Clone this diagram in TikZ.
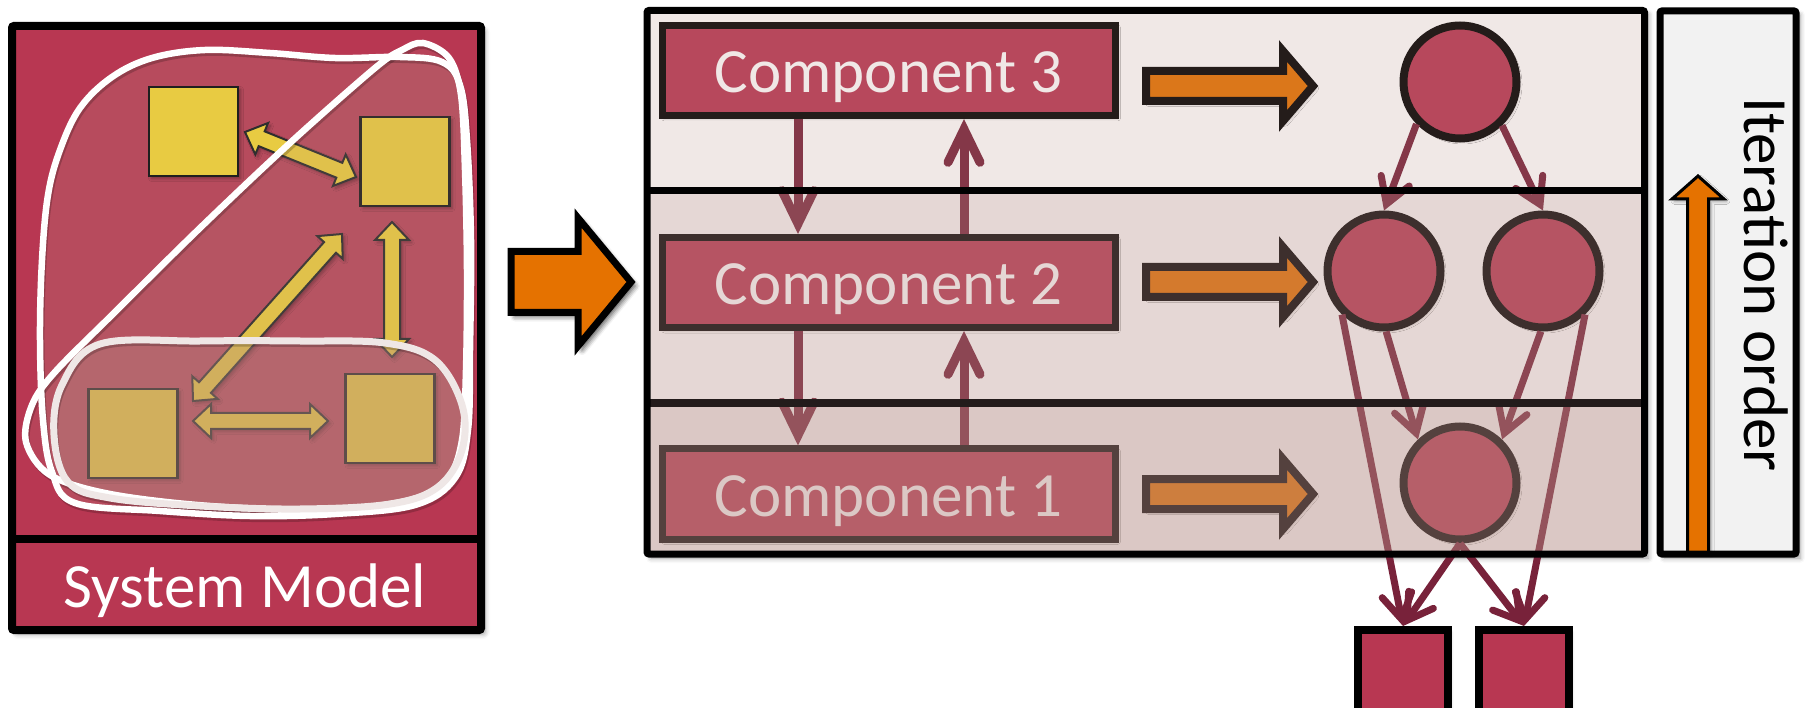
\documentclass[tikz,border=0pt]{standalone}
\usepackage{fontspec}
\setmainfont{Carlito}
\usetikzlibrary{arrows.meta,calc,shadows.blur}

\definecolor{sysred}{RGB}{184,55,82}
\definecolor{veil}{RGB}{180,140,132}
\definecolor{sqyellow}{RGB}{232,203,66}
\definecolor{orangefill}{RGB}{229,114,0}
\definecolor{flowline}{RGB}{120,34,58}
\definecolor{loopC}{RGB}{239,231,230}
\definecolor{iterbg}{RGB}{242,242,242}
\definecolor{darkline}{RGB}{35,27,27}

\newcommand\labelfont{\fontsize{63pt}{70pt}\selectfont}

% hand-drawn grouping loops of the system model
\newcommand\loopApath{plot[smooth cycle, tension=0.6] coordinates {(60,150) (80,108) (112,77) (152,58) (205,50) (270,53) (335,58) (400,57) (442,62) (460,85) (467,140) (471,240) (470,350) (468,430) (455,478) (415,505) (335,514) (250,516) (160,511) (75,503) (52,472) (43,420) (40,340) (42,260) (48,195)}}
\newcommand\loopBpath{plot[smooth cycle, tension=0.55] coordinates {(423,43) (449,58) (461,95) (465,170) (467,270) (466,370) (462,440) (447,480) (410,500) (330,510) (210,506) (110,494) (50,475) (26,442) (32,405) (55,372) (115,312) (200,228) (290,143) (375,68) (402,50)}}
\newcommand\loopCpath{plot[smooth cycle, tension=0.6] coordinates {(100,344) (200,341) (300,341) (385,343) (435,360) (462,405) (462,450) (438,487) (390,504) (300,509) (200,506) (110,498) (68,482) (54,435) (62,385)}}

% double-headed block arrow between two named coordinates
\newcommand\dblarrow[2]{%
  \draw[yarrow] (#1)
    -- ($(#1)!18pt!(#2)!17pt!90:(#2)$) -- ($(#1)!18pt!(#2)!8pt!90:(#2)$)
    -- ($(#2)!18pt!(#1)!8pt!-90:(#1)$) -- ($(#2)!18pt!(#1)!17pt!-90:(#1)$)
    -- (#2)
    -- ($(#2)!18pt!(#1)!17pt!90:(#1)$) -- ($(#2)!18pt!(#1)!8pt!90:(#1)$)
    -- ($(#1)!18pt!(#2)!8pt!-90:(#2)$) -- ($(#1)!18pt!(#2)!17pt!-90:(#2)$)
    -- cycle;}

% block arrow pointing right, starting at a named coordinate
\newcommand\rowarrow[1]{%
  \draw[oarrow, shift={(#1)}] (0,-15) -- (137,-15) -- (137,-35) -- (167,0)
    -- (137,35) -- (137,15) -- (0,15) -- cycle;}

\tikzset{
  softshadow/.style={blur shadow={shadow xshift=4pt, shadow yshift=-4pt,
      shadow blur radius=5pt, shadow opacity=40}},
  smallshadow/.style={blur shadow={shadow xshift=2.5pt, shadow yshift=-2.5pt,
      shadow blur radius=3pt, shadow opacity=35}},
  ysquare/.style={rectangle, draw=black!88, line width=2.5pt, fill=sqyellow,
      minimum size=89pt, inner sep=0pt, smallshadow},
  yarrow/.style={draw=black!82, line width=2pt, fill=sqyellow, line join=miter,
      smallshadow},
  loopline/.style={draw=white, line width=6.5pt},
  loopshade/.style={draw=black, draw opacity=.2, line width=6pt, shift={(1.5,3)}},
  compbox/.style={rectangle, draw=black, line width=7pt, fill=sysred,
      minimum width=453pt, minimum height=90pt, inner sep=0pt, text=white,
      font=\labelfont, text height=44pt, text depth=0pt, smallshadow},
  stnode/.style={circle, draw=black, line width=8pt, fill=sysred,
      minimum size=113pt, inner sep=0pt, smallshadow},
  outsq/.style={rectangle, draw=black, line width=8pt, fill=sysred,
      minimum size=90pt, inner sep=0pt, smallshadow},
  oarrow/.style={draw=black, line width=8pt, fill=orangefill, line join=miter,
      smallshadow},
  comparrow/.style={draw=flowline, line width=9pt,
      -{Straight Barb[length=33pt, width=32pt, line cap=round, line join=miter]}},
  depline/.style={draw=flowline, line width=7pt,
      -{Straight Barb[length=25pt, width=30pt, line cap=round, line join=miter]}},
}

\begin{document}
\begin{tikzpicture}[x=1pt, y=-1pt]
\useasboundingbox (0,0) rectangle (1805,708);

% ===== system model panel =====
\fill[sysred, softshadow, rounded corners=2pt] (12,26) rectangle (481,630);
\fill[veil, fill opacity=.24] \loopApath;

\node[ysquare] (tl) at (193.5,131.5) {};
\node[ysquare] (tr) at (405,161.5) {};
\node[ysquare] (bl) at (133,433.5) {};
\node[ysquare] (br) at (390,418.5) {};

\coordinate (a1s) at (245,132);  \coordinate (a1e) at (356,177);
\coordinate (a2s) at (193,401);  \coordinate (a2e) at (342,234);
\coordinate (a3s) at (392,222);  \coordinate (a3e) at (392,357);
\coordinate (a4s) at (193,421);  \coordinate (a4e) at (328,421);
\dblarrow{a1s}{a1e}
\dblarrow{a2s}{a2e}
\dblarrow{a3s}{a3e}
\dblarrow{a4s}{a4e}

\fill[veil, fill opacity=.15] \loopBpath;
\fill[veil, fill opacity=.33] \loopCpath;

\draw[loopshade] \loopApath;
\draw[loopshade] \loopBpath;
\draw[loopshade] \loopCpath;
\draw[loopline] \loopApath;
\draw[loopline] \loopBpath;
\draw[loopline, draw=loopC, line width=7pt] \loopCpath;

\draw[black, line width=8pt, rounded corners=2pt] (12,26) rectangle (481,630);
\draw[black, line width=8pt] (12,539) -- (481,539);
\node[font=\labelfont, text=white, anchor=base, inner sep=0pt] (sm) at (245,607) {System Model};

% ===== transition arrow =====
\draw[oarrow, line width=7pt, softshadow, shift={(511,282)}]
  (0,-30.5) -- (67,-30.5) -- (67,-64) -- (120,0) -- (67,64) -- (67,30.5) -- (0,30.5) -- cycle;

% ===== component stack =====
\fill[white, softshadow] (647,10.5) rectangle (1644.5,554);

\coordinate (r3) at (1146,86);
\coordinate (r2) at (1146,282);
\coordinate (r1) at (1146,494);
\rowarrow{r3}
\rowarrow{r2}
\rowarrow{r1}

\node[compbox] (c3) at (888.5,70.5) {Component 3};
\node[compbox] (c2) at (888.5,282.5) {Component 2};
\node[compbox] (c1) at (888.5,494) {Component 1};

\coordinate (dnx) at (798,0);
\coordinate (upx) at (964,0);
\draw[comparrow] (c3.south -| dnx) -- (c2.north -| dnx);
\draw[comparrow] (c2.north -| upx) -- (c3.south -| upx);
\draw[comparrow] (c2.south -| dnx) -- (c1.north -| dnx);
\draw[comparrow] (c1.north -| upx) -- (c2.south -| upx);

\node[stnode] (t)  at (1460,82) {};
\node[stnode] (ml) at (1384,271) {};
\node[stnode] (mr) at (1543,271) {};
\node[stnode] (b)  at (1460,483) {};
\node[outsq] (lsq) at (1403,675) {};
\node[outsq] (rsq) at (1524,675) {};

\draw[depline] (t.224) -- (ml.north);
\draw[depline] (t.-46) -- (mr.north);
\draw[depline] (ml.226) -- (lsq.north);
\draw[depline] (ml.-88) -- (b.134);
\draw[depline] (mr.-92) -- (b.46);
\draw[depline] (mr.-46) -- (rsq.north);
\draw[depline] (b.south) -- (lsq.north);
\draw[depline] (b.south) -- (rsq.north);

% row shading, lighter at the top
\fill[veil, fill opacity=.20] (647,10.5) rectangle (1644.5,191);
\fill[veil, fill opacity=.34] (647,191) rectangle (1644.5,403);
\fill[veil, fill opacity=.47] (647,403) rectangle (1644.5,554);
\draw[black, line width=7pt] (647,191) -- (1644.5,191);
\draw[darkline, line width=8pt] (647,403) -- (1644.5,403);
\draw[black, line width=7pt, rounded corners=2pt] (647,10.5) rectangle (1644.5,554);

% ===== iteration order =====
\fill[iterbg, softshadow] (1660,11) rectangle (1796,554);
\draw[black, line width=3pt, fill=orangefill, line join=miter, smallshadow]
  (1687.5,553) -- (1687.5,199) -- (1672,199) -- (1698,176) -- (1724,199)
  -- (1708.5,199) -- (1708.5,553) -- cycle;
\node[rotate=-90, anchor=base west, font=\labelfont, inner sep=0pt] (itxt)
  at (1744,97) {Iteration order};
\draw[black, line width=7pt, rounded corners=2pt] (1660,11) rectangle (1796,554);

\end{tikzpicture}
\end{document}
